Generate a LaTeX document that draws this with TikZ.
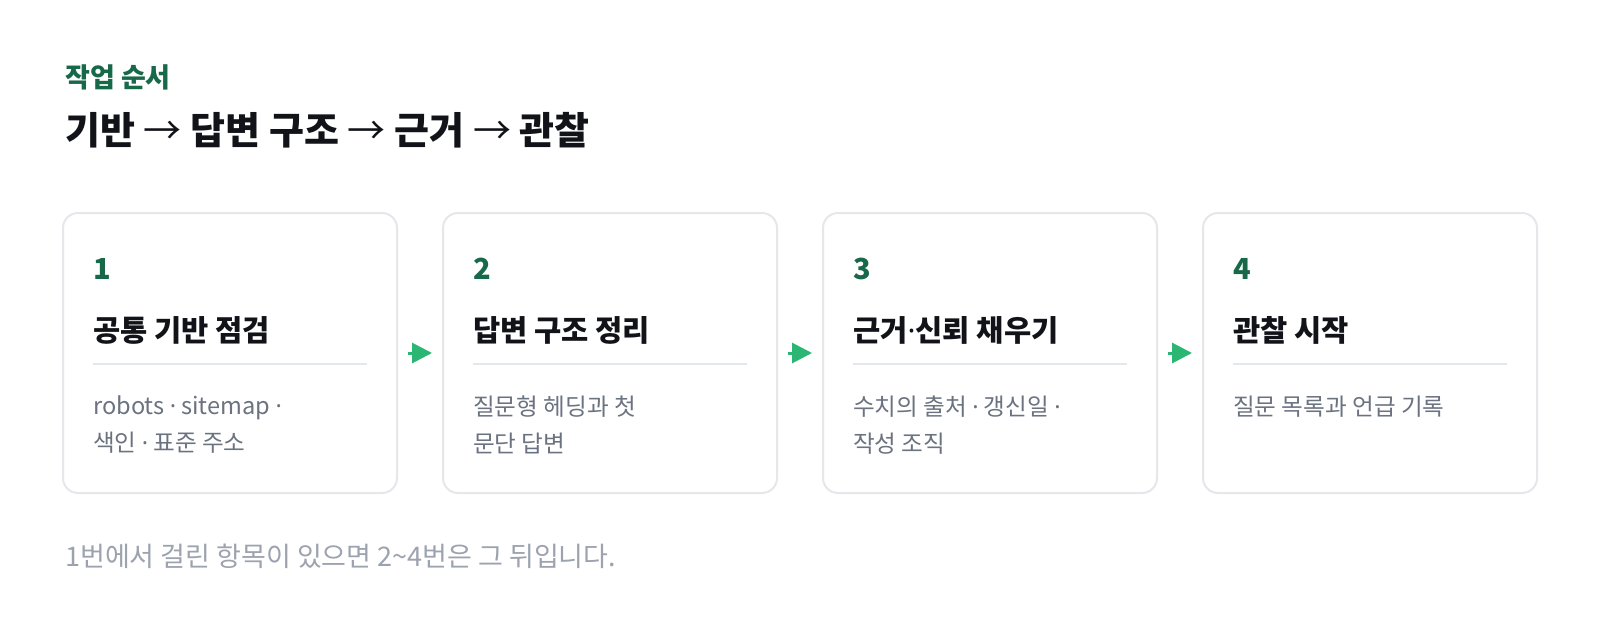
\documentclass[tikz,border=0pt]{standalone}
\usepackage{fontspec}
\setmainfont{Noto Sans CJK KR}
\newfontfamily\latinfont{Noto Sans}
\usepackage{tikz}
\usetikzlibrary{arrows.meta,positioning}

\definecolor{headgreen}{HTML}{17694A}
\definecolor{flowgreen}{HTML}{2BB673}
\definecolor{ink}{HTML}{111318}
\definecolor{muted}{HTML}{6B7280}
\definecolor{faint}{HTML}{9CA3AF}
\definecolor{cardline}{HTML}{E5E7EB}
\definecolor{ruleline}{HTML}{E3E8EF}

\newcommand\mdot{{\latinfont ·}}
\newcommand\thinarrow{{\mdseries →}}

\tikzset{
	card/.style={draw=cardline, line width=2pt, fill=white, rounded corners=15pt,
		minimum width=334pt, minimum height=280pt, inner sep=0pt},
	stepnum/.style={anchor=west, inner sep=0pt, text=headgreen,
		font=\fontsize{29}{32}\selectfont\bfseries},
	steptitle/.style={anchor=west, inner sep=0pt, text=ink,
		font=\fontsize{29.6}{34}\selectfont\bfseries},
	stepnote/.style={anchor=north west, inner sep=0pt, text=muted, align=left,
		font=\fontsize{23.6}{37}\selectfont},
	steprule/.style={draw=ruleline, line width=2pt},
	flow/.style={draw=flowgreen, line width=3pt,
		-{Triangle[length=20pt,width=20pt]}},
}

\begin{document}
\begin{tikzpicture}[x=1pt,y=1pt]
		%%%%% START %%%%%
		
		\useasboundingbox[fill=white] (0,0) rectangle (1600,-632);
		
		\node[anchor=west, inner sep=0pt, text=headgreen,
			font=\fontsize{27}{30}\selectfont\bfseries] (kicker) at (65,-77) {작업 순서};
		\node[anchor=west, inner sep=0pt, text=ink,
			font=\fontsize{38}{44}\selectfont\bfseries] (headline) at (65,-130)
			{기반 \thinarrow{} 답변 구조 \thinarrow{} 근거 \thinarrow{} 관찰};
		
		% step 1
		\node[card] (c1) at (230,-353) {};
		\node[stepnum] (n1) at (93,-269) {1};
		\node[steptitle] (t1) at (93,-330) {공통 기반 점검};
		\draw[steprule] (93,-364) -- (367,-364);
		\node[stepnote] (d1) at (93,-396) {robots \mdot{} sitemap \mdot\\색인 \mdot{} 표준 주소};
		
		% step 2
		\node[card] (c2) at (610,-353) {};
		\node[stepnum] (n2) at (473,-269) {2};
		\node[steptitle] (t2) at (473,-330) {답변 구조 정리};
		\draw[steprule] (473,-364) -- (747,-364);
		\node[stepnote] (d2) at (473,-396) {질문형 헤딩과 첫\\문단 답변};
		
		% step 3
		\node[card] (c3) at (990,-353) {};
		\node[stepnum] (n3) at (853,-269) {3};
		\node[steptitle] (t3) at (853,-330) {근거\mdot 신뢰 채우기};
		\draw[steprule] (853,-364) -- (1127,-364);
		\node[stepnote] (d3) at (853,-396) {수치의 출처 \mdot{} 갱신일 \mdot\\작성 조직};
		
		% step 4
		\node[card] (c4) at (1370,-353) {};
		\node[stepnum] (n4) at (1233,-269) {4};
		\node[steptitle] (t4) at (1233,-330) {관찰 시작};
		\draw[steprule] (1233,-364) -- (1507,-364);
		\node[stepnote] (d4) at (1233,-396) {질문 목록과 언급 기록};
		
		\draw[flow] ([xshift=10pt]c1.east) -- ([xshift=-10pt]c2.west);
		\draw[flow] ([xshift=10pt]c2.east) -- ([xshift=-10pt]c3.west);
		\draw[flow] ([xshift=10pt]c3.east) -- ([xshift=-10pt]c4.west);
		
		\node[anchor=west, inner sep=0pt, text=faint,
			font=\fontsize{27}{30}\selectfont] (footnote) at (65,-556)
			{1번에서 걸린 항목이 있으면 2\textasciitilde 4번은 그 뒤입니다.};
		
		%%%%% END %%%%%
	\end{tikzpicture}
\end{document}
